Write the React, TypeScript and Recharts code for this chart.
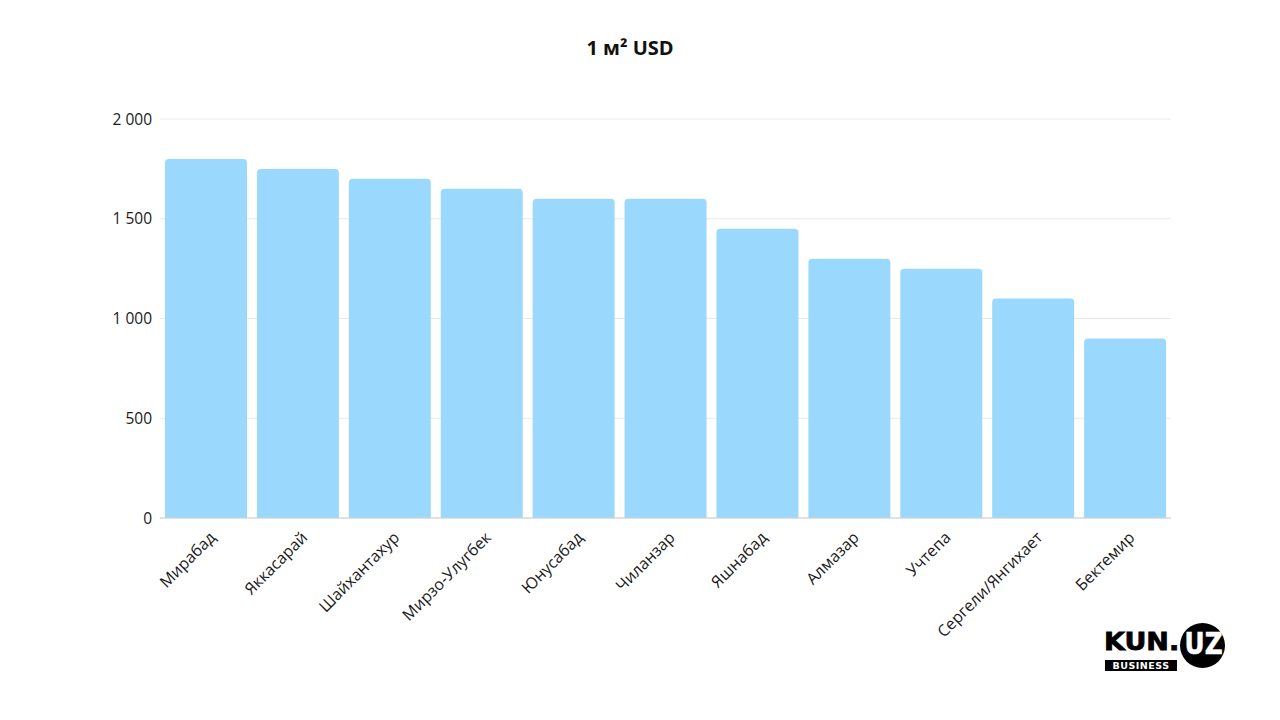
import React from "react";
import { BarChart, Bar, XAxis, YAxis, CartesianGrid } from "recharts";

const districts = [
  "Мирабад",
  "Яккасарай",
  "Шайхантахур",
  "Мирзо-Улугбек",
  "Юнусабад",
  "Чиланзар",
  "Яшнабад",
  "Алмазар",
  "Учтепа",
  "Сергели/Янгихает",
  "Бектемир",
];
const pricesUsd = [1800, 1750, 1700, 1650, 1600, 1600, 1450, 1300, 1250, 1100, 900];
const yTicks = [0, 500, 1000, 1500, 2000];
const title = "1 м² USD";

const data = districts.map((name, i) => ({ name, value: pricesUsd[i] }));

const FONT = "'Open Sans', 'Noto Sans', sans-serif";

const fmt = (v: number) => (v >= 1000 ? `${Math.floor(v / 1000)} ${String(v % 1000).padStart(3, "0")}` : String(v));

const XTick = (props: any) => {
  const { x, y, payload } = props;
  return (
    <g transform={`translate(${x + 7},${y + 9})`}>
      <text
        textAnchor="end"
        transform="rotate(-45)"
        fontFamily={FONT}
        fontSize={16}
        fill="#1a1a1a"
        dy={5}
      >
        {payload.value}
      </text>
    </g>
  );
};

export default function App() {
  return (
    <div style={{ position: "absolute", left: 0, top: 0, width: 1280, height: 720, background: "#fff", fontFamily: FONT }}>
      <div
        style={{
          position: "absolute",
          left: 430,
          width: 400,
          top: 34,
          textAlign: "center",
          fontSize: 20,
          fontWeight: 700,
          color: "#111",
          fontFamily: FONT,
        }}
      >
        {title}
      </div>
      <BarChart
        width={1280}
        height={720}
        data={data}
        margin={{ top: 119, right: 109, bottom: 172, left: 60 }}
        barCategoryGap={5}
      >
        <CartesianGrid vertical={false} stroke="#e8e8e8" />
        <XAxis
          dataKey="name"
          interval={0}
          tickLine={false}
          axisLine={{ stroke: "#d0d0d0" }}
          tick={<XTick />}
          height={30}
        />
        <YAxis
          width={100}
          domain={[0, 2000]}
          ticks={yTicks}
          tickFormatter={fmt}
          axisLine={false}
          tickLine={false}
          tick={{ fontFamily: FONT, fontSize: 15.5, fill: "#1a1a1a" }}
        />
        <Bar dataKey="value" fill="#9ad9fd" radius={[4, 4, 0, 0]} isAnimationActive={false} />
      </BarChart>
      <div style={{ position: "absolute", left: 1103, top: 622, width: 130, height: 55 }}>
        <div
          style={{
            position: "absolute",
            left: 1,
            top: 5,
            fontFamily: "'DejaVu Sans', sans-serif",
            fontWeight: 700,
            fontSize: 25,
            lineHeight: "30px",
            letterSpacing: 0,
            color: "#000",
            transform: "scaleX(1.08)",
            transformOrigin: "left center",
            WebkitTextStroke: "0.8px #000",
          }}
        >
          KUN.
        </div>
        <div
          style={{
            position: "absolute",
            left: 77,
            top: 1,
            width: 45,
            height: 45,
            borderRadius: "50%",
            background: "#000",
          }}
        />
        <div
          style={{
            position: "absolute",
            left: 77,
            top: 1,
            width: 45,
            height: 40,
            color: "#fff",
            fontFamily: "'DejaVu Sans', sans-serif",
            fontWeight: 700,
            fontSize: 31,
            lineHeight: "40px",
            textAlign: "center",
            transform: "scaleX(0.8)",
            WebkitTextStroke: "0.6px #fff",
          }}
        >
          UZ
        </div>
        <div
          style={{
            position: "absolute",
            left: 2,
            top: 38,
            width: 72,
            height: 11,
            background: "#000",
            color: "#fff",
            fontFamily: "'DejaVu Sans', sans-serif",
            fontWeight: 700,
            fontSize: 9.5,
            lineHeight: "11px",
            textAlign: "center",
            letterSpacing: 0.5,
          }}
        >
          BUSINESS
        </div>
      </div>
    </div>
  );
}
